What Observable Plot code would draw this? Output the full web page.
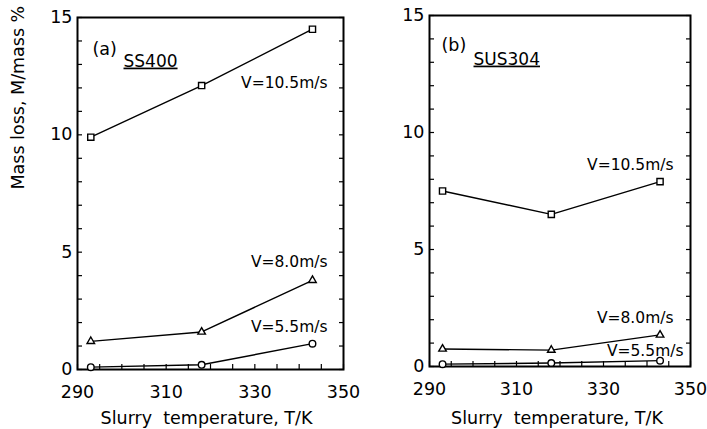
<!DOCTYPE html>
<html>
<head>
<meta charset="utf-8">
<script src="https://cdn.jsdelivr.net/npm/d3@7"></script>
<script src="https://cdn.jsdelivr.net/npm/@observablehq/plot@0.6"></script>
<style>
  body { margin: 0; background: #fff; }
  #wrap { display: flex; width: 707px; height: 429px; background: #fff; }
  #wrap svg { overflow: visible; }
</style>
</head>
<body>
<div id="wrap"></div>
<script>
// ---- data ----
const temperatures = [293, 318, 343];            // slurry temperature, K
const velocityLabels = ["V=10.5m/s", "V=8.0m/s", "V=5.5m/s"];
const symbols = ["square", "triangle", "circle"];

// (a) SS400 mass loss, %
const ss400_v105 = [9.9, 12.1, 14.5];
const ss400_v80  = [1.2, 1.6, 3.8];
const ss400_v55  = [0.1, 0.2, 1.1];

// (b) SUS304 mass loss, %
const sus304_v105 = [7.5, 6.5, 7.9];
const sus304_v80  = [0.75, 0.7, 1.35];
const sus304_v55  = [0.1, 0.15, 0.25];

const xTicks = [290, 310, 330, 350];
const yTicks = [0, 5, 10, 15];
const xMinorTicks = d3.range(290, 351, 5);
const yMinorTicks = d3.range(0, 16, 1);
const xLabel = "Slurry\u00a0 temperature, T/K";
const yLabel = "Mass loss, M/mass %";

const FONT = "DejaVu Sans";

function panel(cfg) {
  const marks = [
    // minor inward ticks
    Plot.axisY(yMinorTicks, {anchor: "left", tickSize: -5, fill: "none", label: null, strokeWidth: 1.2}),
    Plot.axisY(yMinorTicks, {anchor: "right", tickSize: -5, fill: "none", label: null, strokeWidth: 1.2}),
    Plot.axisX(xMinorTicks, {anchor: "bottom", tickSize: -5, fill: "none", label: null, strokeWidth: 1.2}),
    // tick labels
    Plot.axisY(yTicks, {anchor: "left", tickSize: 0, tickPadding: 5, label: null, fontSize: 17.5}),
    Plot.axisX(xTicks, {anchor: "bottom", tickSize: 0, tickPadding: 16, label: null, fontSize: 17.5}),
    Plot.frame({stroke: "black", strokeWidth: 2})
  ];
  cfg.series.forEach((vals, i) => {
    const rows = vals.map((v, j) => ({T: temperatures[j], M: v}));
    marks.push(Plot.line(rows, {x: "T", y: "M", stroke: "black", strokeWidth: 1.4}));
    marks.push(Plot.dot(rows, {x: "T", y: "M", symbol: symbols[i], r: i === 1 ? 2.8 : (i === 0 ? 3.5 : 3.3),
      fill: "white", stroke: "black", strokeWidth: 1.4}));
  });
  // series labels
  cfg.labels.forEach((p, i) => {
    marks.push(Plot.text([velocityLabels[i]], {x: () => p[0], y: () => p[1], text: d => d,
      textAnchor: "end", fontSize: 15.5, fill: "black"}));
  });
  // panel letter + material
  marks.push(Plot.text([cfg.letter], {frameAnchor: "top-left", text: d => d, dx: cfg.letterDx, dy: cfg.letterDy,
    textAnchor: "start", fontSize: 17.5}));
  marks.push(Plot.text([cfg.material], {frameAnchor: "top-left", text: d => d, dx: cfg.matDx, dy: cfg.matDy,
    textAnchor: "start", fontSize: 17}));
  // axis titles
  marks.push(Plot.text([xLabel], {frameAnchor: "bottom", text: d => d, dy: cfg.xLabelDy, dx: cfg.xLabelDx,
    lineAnchor: "top", fontSize: 17.5}));
  if (cfg.showYLabel) {
    marks.push(Plot.text([yLabel], {frameAnchor: "left", text: d => d, rotate: -90, dx: -59, dy: -4, fontSize: 17.5}));
  }
  const svg = Plot.plot({
    width: cfg.width,
    height: 429,
    marginLeft: cfg.marginLeft,
    marginRight: cfg.marginRight,
    marginTop: cfg.marginTop,
    marginBottom: cfg.marginBottom,
    x: {domain: [290, 350], label: null},
    y: {domain: [0, 15], label: null},
    style: {fontFamily: FONT, color: "black", background: "transparent", overflow: "visible"},
    marks
  });
  d3.select(svg).selectAll("text").filter(function() { return this.textContent === cfg.material; })
    .style("text-decoration", "underline");
  return svg;
}

const wrap = document.getElementById("wrap");
wrap.appendChild(panel({
  width: 353, marginLeft: 77, marginRight: 10, marginTop: 17, marginBottom: 60,
  series: [ss400_v105, ss400_v80, ss400_v55],
  labels: [[346.4, 12.2], [346.4, 4.56], [346.4, 1.79]],
  letter: "(a)", letterDx: 15, letterDy: 25,
  material: "SS400", matDx: 46, matDy: 37,
  xLabelDx: -4, xLabelDy: 42, showYLabel: true
}));
wrap.appendChild(panel({
  width: 354, marginLeft: 76, marginRight: 17, marginTop: 15, marginBottom: 63,
  series: [sus304_v105, sus304_v80, sus304_v55],
  labels: [[346.1, 8.59], [346.1, 2.09], [348.4, 0.64]],
  letter: "(b)", letterDx: 12, letterDy: 23,
  material: "SUS304", matDx: 44, matDy: 37,
  xLabelDx: -3, xLabelDy: 45, showYLabel: false
}));
</script>
</body>
</html>
